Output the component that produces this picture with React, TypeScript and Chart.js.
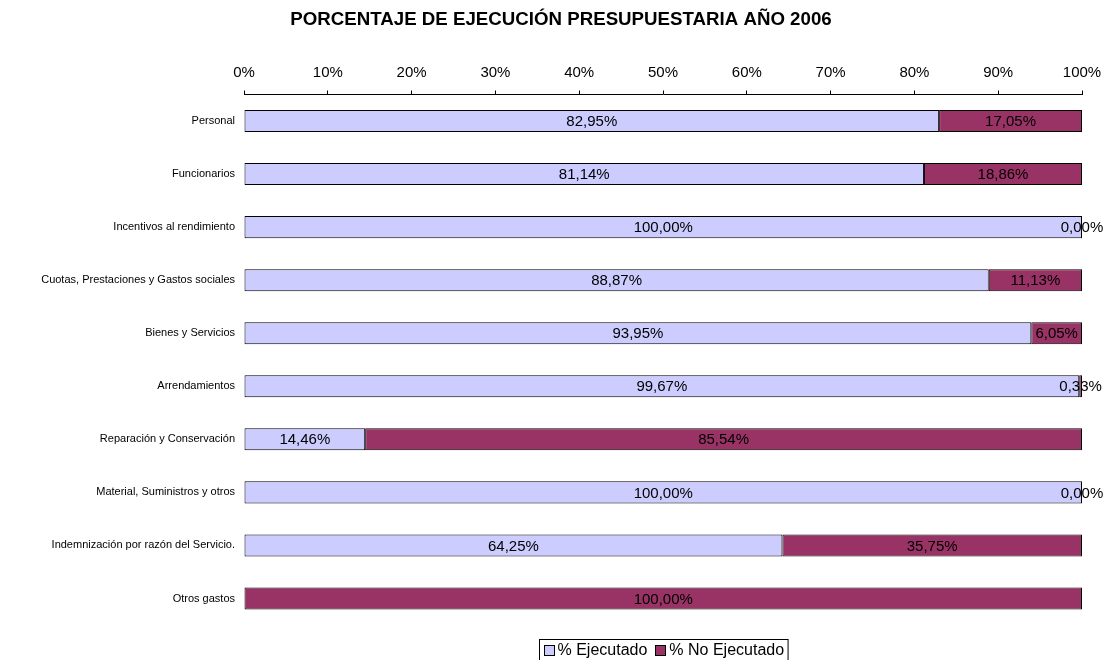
import React, { useEffect, useRef } from "react";
import { Chart, registerables } from "chart.js";

Chart.register(...registerables);

const FONT = "'Liberation Sans', Arial, sans-serif";

const categories = [
  "Personal",
  "Funcionarios",
  "Incentivos al rendimiento",
  "Cuotas, Prestaciones y Gastos sociales",
  "Bienes y Servicios",
  "Arrendamientos",
  "Reparación y Conservación",
  "Material, Suministros y otros",
  "Indemnización por razón del Servicio.",
  "Otros gastos",
];

const ejecutado = [82.95, 81.14, 100.0, 88.87, 93.95, 99.67, 14.46, 100.0, 64.25, 0];
const noEjecutado = [17.05, 18.86, 0.0, 11.13, 6.05, 0.33, 85.54, 0.0, 35.75, 100.0];

const seriesNames = ["% Ejecutado", "% No Ejecutado"];
const seriesColors = ["#CCCCFF", "#993366"];
const xTicks = [0, 10, 20, 30, 40, 50, 60, 70, 80, 90, 100];

const title = "PORCENTAJE DE EJECUCIÓN PRESUPUESTARIA AÑO 2006";

const fmt = (v: number) => v.toFixed(2).replace(".", ",") + "%";

const titlePlugin = {
  id: "centerTitle",
  afterDraw(chart: any) {
    const ctx = chart.ctx;
    ctx.save();
    ctx.font = `bold 18.7px ${FONT}`;
    ctx.fillStyle = "#000";
    ctx.textAlign = "center";
    ctx.textBaseline = "middle";
    ctx.fillText(title, 561, 20);
    ctx.restore();
  },
};

const labelPlugin = {
  id: "segLabels",
  afterDatasetsDraw(chart: any) {
    const ctx = chart.ctx;
    ctx.save();
    ctx.font = `15px ${FONT}`;
    ctx.fillStyle = "#000";
    ctx.textAlign = "center";
    ctx.textBaseline = "middle";
    chart.data.datasets.forEach((ds: any, di: number) => {
      const meta = chart.getDatasetMeta(di);
      meta.data.forEach((el: any, i: number) => {
        const v = ds.data[i];
        if (di === 0 && v === 0) return;
        const cx = (el.x + el.base) / 2;
        ctx.fillText(fmt(v), cx, el.y + 1);
      });
    });
    ctx.restore();
  },
};

const legendPlugin = {
  id: "boxLegend",
  afterDraw(chart: any) {
    const ctx = chart.ctx;
    const area = chart.chartArea;
    ctx.save();
    ctx.font = `16px ${FONT}`;
    const box = 10;
    const gapBoxText = 4;
    const gapItems = 8;
    const padX = 4;
    const widths = seriesNames.map((n) => box + gapBoxText + ctx.measureText(n).width);
    const total = widths.reduce((a, b) => a + b, 0) + gapItems * (widths.length - 1) + padX * 2;
    const cx = (area.left + area.right) / 2;
    const left = Math.round(cx - total / 2) + 0.5;
    const top = 639.5;
    const h = 21;
    ctx.strokeStyle = "#000";
    ctx.lineWidth = 1;
    ctx.strokeRect(left, top, total, h);
    let x = left + padX;
    const cy = top + h / 2;
    seriesNames.forEach((n, i) => {
      const by = Math.round(cy - box / 2) + 0.5;
      ctx.fillStyle = seriesColors[i];
      ctx.fillRect(Math.round(x) + 0.5, by, box, box);
      ctx.strokeRect(Math.round(x) + 0.5, by, box, box);
      ctx.fillStyle = "#000";
      ctx.textAlign = "left";
      ctx.textBaseline = "middle";
      ctx.fillText(n, x + box + gapBoxText, cy + 1);
      x += widths[i] + gapItems;
    });
    ctx.restore();
  },
};

export default function App() {
  const ref = useRef<HTMLCanvasElement>(null);
  useEffect(() => {
    if (!ref.current) return;
    const chart = new Chart(ref.current, {
      type: "bar",
      data: {
        labels: categories,
        datasets: [
          {
            label: seriesNames[0],
            data: ejecutado,
            backgroundColor: seriesColors[0],
            borderColor: "#000",
            borderWidth: 1,
            borderSkipped: false,
            categoryPercentage: 0.8,
            barPercentage: 0.52,
          },
          {
            label: seriesNames[1],
            data: noEjecutado,
            backgroundColor: seriesColors[1],
            borderColor: "#000",
            borderWidth: 1,
            borderSkipped: false,
            categoryPercentage: 0.8,
            barPercentage: 0.52,
          },
        ],
      },
      options: {
        indexAxis: "y",
        animation: false,
        responsive: false,
        maintainAspectRatio: false,
        layout: { padding: { left: 0, right: 29, top: 40.5, bottom: 35 } },
        plugins: {
          legend: { display: false },
          tooltip: { enabled: false },
          title: { display: false },
        },
        scales: {
          x: {
            position: "top",
            stacked: true,
            min: 0,
            max: 100,
            afterBuildTicks: (scale: any) => {
              scale.ticks = xTicks.map((v) => ({ value: v }));
            },
            ticks: {
              color: "#000",
              font: { family: FONT, size: 15 },
              padding: 9,
              callback: (v: any) => v + "%",
              maxRotation: 0,
              autoSkip: false,
            },
            grid: {
              display: true,
              drawOnChartArea: false,
              drawTicks: true,
              tickLength: 4,
              color: "#000",
              tickColor: "#000",
            },
            border: { display: true, color: "#000", width: 1 },
            afterFit: (scale: any) => {
              scale.height = 54;
            },
          },
          y: {
            stacked: true,
            grid: { display: false, drawTicks: false },
            border: { display: false },
            ticks: {
              color: "#000",
              font: { family: FONT, size: 11 },
              padding: 9,
              autoSkip: false,
            },
            afterFit: (scale: any) => {
              scale.width = 244;
            },
          },
        },
      },
      plugins: [labelPlugin, legendPlugin, titlePlugin],
    } as any);
    return () => chart.destroy();
  }, []);
  return (
    <div style={{ position: "absolute", left: 0, top: 0, width: 1111, height: 660 }}>
      <canvas ref={ref} width={1111} height={660} style={{ width: 1111, height: 660 }} />
    </div>
  );
}
